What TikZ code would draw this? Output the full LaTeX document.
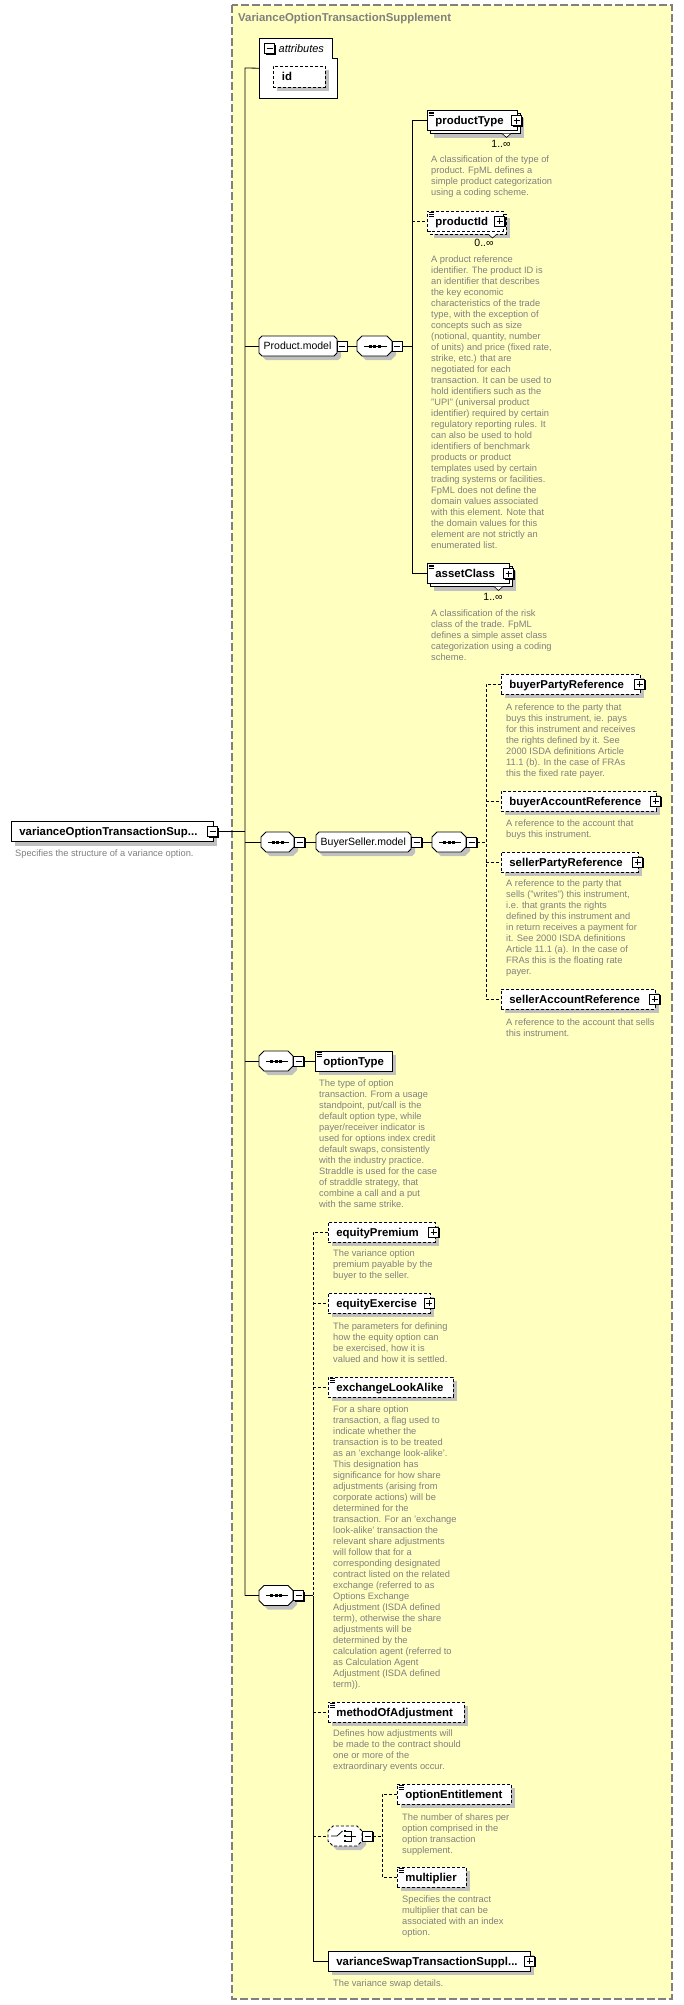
\documentclass[tikz,border=0pt]{standalone}
\usepackage{fontspec}
\setmainfont{Liberation Sans}
\usetikzlibrary{shadows,calc}
\definecolor{bgyellow}{RGB}{255,255,192}
\definecolor{shgray}{RGB}{192,192,192}
\definecolor{desccol}{RGB}{128,128,128}
\definecolor{bordergray}{RGB}{128,128,128}
\tikzset{
  elembox/.style={draw=black, fill=white, line width=0.8pt, minimum height=20pt, inner xsep=8pt, inner ysep=0pt, anchor=west, font=\fontsize{11.4}{13}\selectfont\bfseries, text height=8.2pt, text depth=0pt},
  optb/.style={dash pattern=on 3pt off 2pt},
  conn/.style={line width=0.8pt},
  optconn/.style={line width=0.8pt, dash pattern=on 3pt off 2pt},
  desctext/.style={anchor=north west, inner sep=0pt, align=left, text=desccol, font=\fontsize{9.3}{11}\selectfont},
  multtext/.style={inner sep=0pt, font=\fontsize{10.5}{12}\selectfont},
  grouplabel/.style={inner sep=0pt, anchor=west, font=\fontsize{10.5}{12}\selectfont, text height=7.5pt, text depth=0pt},
  hold/.style={inner sep=0pt, minimum height=20pt, anchor=west},
  pmbox/.style={draw=black, fill=white, line width=0.8pt, minimum size=10pt, inner sep=0pt, general shadow={fill=black, shadow xshift=1pt, shadow yshift=-1pt}},
  plusbox/.style={pmbox, path picture={\draw[line width=0.8pt] ([xshift=-3pt]path picture bounding box.center) -- ([xshift=3pt]path picture bounding box.center) ([yshift=-3pt]path picture bounding box.center) -- ([yshift=3pt]path picture bounding box.center);}},
  minusbox/.style={pmbox, path picture={\draw[line width=0.8pt] ([xshift=-3pt]path picture bounding box.center) -- ([xshift=3pt]path picture bounding box.center);}},
}
% element box: name, style, x-left, y-centre, width, text
\newcommand\elem[6]{%
  \fill[shgray] (#3+4,#4-6) rectangle (#3+#5+4,#4+14);
  \node[elembox,#2,minimum width=#5pt] (#1) at (#3,#4) {\makebox[\dimexpr#5pt-16pt\relax][l]{#6}};
}
\newcommand\elemstack[6]{%
  \fill[shgray] (#3+7,#4-3) rectangle (#3+#5+7,#4+17);
  \draw[line width=0.8pt, fill=white, #2] (#3+3,#4-7) rectangle (#3+#5+3,#4+13);
  \draw[line width=0.6pt, fill=white] (#3+#5-15,#4+13) -- (#3+#5-10.5,#4+17) -- (#3+#5-6,#4+13);
  \node[elembox,#2,minimum width=#5pt] (#1) at (#3,#4) {\makebox[\dimexpr#5pt-16pt\relax][l]{#6}};
}
\newcommand\simpleicon[1]{%
  \draw[line width=0.7pt] ([shift={(1.5pt,-1.8pt)}]#1.north west) -- ++(5.5,0)
    ([shift={(1.5pt,-3.6pt)}]#1.north west) -- ++(5.5,0)
    ([shift={(1.5pt,-5.4pt)}]#1.north west) -- ++(5.5,0);
}
% octagon path: x0, x1, yc, chamfer
\newcommand\octpath[4]{(#1,#3-10+#4) -- (#1+#4,#3-10) -- (#2-#4,#3-10) -- (#2,#3-10+#4) -- (#2,#3+10-#4) -- (#2-#4,#3+10) -- (#1+#4,#3+10) -- (#1,#3+10-#4) -- cycle}
% sequence compositor: name, x0, x1, yc
\newcommand\seqnode[4]{%
  \fill[shgray, shift={(4,4)}] \octpath{#2}{#3}{#4}{5};
  \draw[line width=0.8pt, fill=white] \octpath{#2}{#3}{#4}{5};
  \node[hold, minimum width=#3pt-#2pt] (#1) at (#2,#4) {};
  \draw[line width=1pt] ($(#1.west)+(7,0)$) -- ($(#1.east)+(-5,0)$);
  \fill ($(#1.center)+(-6,-1.5)$) rectangle ++(3,3);
  \fill ($(#1.center)+(-1.5,-1.5)$) rectangle ++(3,3);
  \fill ($(#1.center)+(3,-1.5)$) rectangle ++(3,3);
}
\begin{document}
\begin{tikzpicture}[x=1pt,y=-1pt]
\useasboundingbox (0,0) rectangle (683,2005);
\fill[white] (0,0) rectangle (683,2005);
% complex type area
\draw[fill=bgyellow, draw=bordergray, line width=1.2pt, dash pattern=on 8pt off 3pt] (232,5) rectangle (672,1999);
\node[anchor=west, inner sep=0pt, text=desccol, font=\fontsize{11.4}{13}\selectfont\bfseries] (title) at (238,19) {VarianceOptionTransactionSupplement};

% attributes
\draw[line width=0.8pt, fill=white] (259,38) -- (332,38) -- (332,58) -- (337,58) -- (337,98) -- (259,98) -- cycle;
\node[inner sep=0pt, minimum width=78pt, minimum height=60pt, anchor=north west] (attrs) at (259,38) {};
\node[minusbox] (attrs-m) at (269.5,48.5) {};
\node[anchor=west, inner sep=0pt, font=\fontsize{11}{13}\selectfont\itshape] (attrs-l) at (278.5,48.5) {attributes};
\fill[shgray] (277,70) rectangle (329,91);
\node[elembox, optb, minimum width=52pt, minimum height=21pt, inner xsep=0pt] (id) at (273,76.5) {\makebox[52pt][l]{\hspace{8.5pt}id}};

% main spine
\coordinate (spineTop) at (245,68);
\coordinate (spineBot) at (245,1595.5);
\draw[conn] (attrs.west) -- (spineTop) -- (spineBot);

% root element
\elem{root}{}{11}{831.5}{202}{varianceOptionTransactionSup...}
\node[minusbox] (root-m) at (212.5,831.5) {};
\draw[conn] (root-m.east) -- (root-m.east -| spineTop);
\node[desctext] (root-d) at (15,849.5) {Specifies the structure of a variance option.};

% ---------- Product.model ----------
\fill[shgray, shift={(4,4)}] \octpath{259}{337}{346}{3};
\draw[line width=0.8pt, fill=white] \octpath{259}{337}{346}{3};
\node[hold, minimum width=78pt] (pmodel) at (259,346) {};
\node[grouplabel] (pmodel-l) at (263.5,346) {Product.model};
\node[minusbox] (pmodel-m) at (342,346) {};
\seqnode{seq1}{357}{392}{346}
\node[minusbox] (seq1-m) at (397,346) {};
\draw[conn] (spineTop |- pmodel.west) -- (pmodel.west);
\draw[conn] (pmodel-m.east) -- (seq1.west);
\coordinate (sp1a) at (412,120.5);
\coordinate (sp1b) at (412,573.5);
\draw[conn] (seq1-m.east) -- (seq1-m.east -| sp1a);

\elemstack{ptype}{}{427}{120.5}{90}{productType}
\simpleicon{ptype}
\node[plusbox] (ptype-p) at (516.5,120.5) {};
\node[multtext] (ptype-n) at (501,144) {1..∞};
\node[desctext] (ptype-d) at (431,155.5) {A classification of the type of\\product. FpML defines a\\simple product categorization\\using a coding scheme.};

\elemstack{pid}{optb}{427}{221}{76}{productId}
\simpleicon{pid}
\node[plusbox] (pid-p) at (499.5,221) {};
\node[multtext] (pid-n) at (484,243) {0..∞};
\node[desctext] (pid-d) at (431,255.5) {A product reference\\identifier. The product ID is\\an identifier that describes\\the key economic\\characteristics of the trade\\type, with the exception of\\concepts such as size\\(notional, quantity, number\\of units) and price (fixed rate,\\strike, etc.) that are\\negotiated for each\\transaction. It can be used to\\hold identifiers such as the\\"UPI" (universal product\\identifier) required by certain\\regulatory reporting rules. It\\can also be used to hold\\identifiers of benchmark\\products or product\\templates used by certain\\trading systems or facilities.\\FpML does not define the\\domain values associated\\with this element. Note that\\the domain values for this\\element are not strictly an\\enumerated list.};

\elemstack{aclass}{}{427}{573.5}{82}{assetClass}
\simpleicon{aclass}
\node[plusbox] (aclass-p) at (508.5,573.5) {};
\node[multtext] (aclass-n) at (493,597) {1..∞};
\node[desctext] (aclass-d) at (431,609.5) {A classification of the risk\\class of the trade. FpML\\defines a simple asset class\\categorization using a coding\\scheme.};

\draw[conn] (ptype.west) -- (ptype.west -| sp1a) -- (sp1b) -- (aclass.west);
\draw[optconn] (sp1a |- pid.west) -- (pid.west);

% ---------- BuyerSeller.model ----------
\seqnode{seqA}{261}{294}{842}
\node[minusbox] (seqA-m) at (299.5,842) {};
\fill[shgray, shift={(4,4)}] \octpath{316}{411}{842}{3};
\draw[line width=0.8pt, fill=white] \octpath{316}{411}{842}{3};
\node[hold, minimum width=95pt] (bsm) at (316,842) {};
\node[grouplabel] (bsm-l) at (320.5,842) {BuyerSeller.model};
\node[minusbox] (bsm-m) at (416.5,842) {};
\seqnode{seqB}{432}{466}{842}
\node[minusbox] (seqB-m) at (471.5,842) {};
\draw[conn] (spineTop |- seqA.west) -- (seqA.west);
\draw[conn] (seqA-m.east) -- (bsm.west);
\draw[conn] (bsm-m.east) -- (seqB.west);
\coordinate (sp2a) at (486,684);
\coordinate (sp2b) at (486,999);
\draw[optconn] (seqB-m.east) -- (seqB-m.east -| sp2a);

\elem{bpr}{optb}{501}{684}{139}{buyerPartyReference}
\node[plusbox] (bpr-p) at (639.5,684) {};
\node[desctext] (bpr-d) at (506,703.5) {A reference to the party that\\buys this instrument, ie. pays\\for this instrument and receives\\the rights defined by it. See\\2000 ISDA definitions Article\\11.1 (b). In the case of FRAs\\this the fixed rate payer.};

\elem{bar}{optb}{501}{801}{155}{buyerAccountReference}
\node[plusbox] (bar-p) at (655.5,801) {};
\node[desctext] (bar-d) at (506,819.5) {A reference to the account that\\buys this instrument.};

\elem{spr}{optb}{501}{862}{137}{sellerPartyReference}
\node[plusbox] (spr-p) at (637.5,862) {};
\node[desctext] (spr-d) at (506,879.5) {A reference to the party that\\sells ("writes") this instrument,\\i.e. that grants the rights\\defined by this instrument and\\in return receives a payment for\\it. See 2000 ISDA definitions\\Article 11.1 (a). In the case of\\FRAs this is the floating rate\\payer.};

\elem{sar}{optb}{501}{999}{154}{sellerAccountReference}
\node[plusbox] (sar-p) at (654.5,999) {};
\node[desctext] (sar-d) at (506,1018.5) {A reference to the account that sells\\this instrument.};

\draw[optconn] (bpr.west) -- (bpr.west -| sp2a) -- (sp2b) -- (sar.west);
\draw[optconn] (sp2a |- bar.west) -- (bar.west);
\draw[optconn] (sp2a |- spr.west) -- (spr.west);

% ---------- optionType ----------
\seqnode{seqC}{259}{293}{1061}
\node[minusbox] (seqC-m) at (298.5,1061) {};
\elem{otype}{}{315}{1061}{77}{optionType}
\simpleicon{otype}
\draw[conn] (spineTop |- seqC.west) -- (seqC.west);
\draw[conn] (seqC-m.east) -- (otype.west);
\node[desctext] (otype-d) at (319,1079.5) {The type of option\\transaction. From a usage\\standpoint, put/call is the\\default option type, while\\payer/receiver indicator is\\used for options index credit\\default swaps, consistently\\with the industry practice.\\Straddle is used for the case\\of straddle strategy, that\\combine a call and a put\\with the same strike.};

% ---------- last sequence ----------
\seqnode{seqD}{259}{293}{1595.5}
\node[minusbox] (seqD-m) at (298.5,1595.5) {};
\draw[conn] (spineBot) -- (seqD.west);
\coordinate (sp3a) at (313,1232);
\coordinate (sp3b) at (313,1961);
\draw[conn] (seqD-m.east) -- (seqD-m.east -| sp3a);

\elem{ep}{optb}{328}{1232}{107}{equityPremium}
\node[plusbox] (ep-p) at (433.5,1232) {};
\node[desctext] (ep-d) at (333,1249.5) {The variance option\\premium payable by the\\buyer to the seller.};

\elem{ee}{optb}{328}{1303}{102}{equityExercise}
\node[plusbox] (ee-p) at (429,1303) {};
\node[desctext] (ee-d) at (333,1322.5) {The parameters for defining\\how the equity option can\\be exercised, how it is\\valued and how it is settled.};

\elem{exl}{optb}{328}{1387}{125}{exchangeLookAlike}
\simpleicon{exl}
\node[desctext] (exl-d) at (333,1405.5) {For a share option\\transaction, a flag used to\\indicate whether the\\transaction is to be treated\\as an 'exchange look-alike'.\\This designation has\\significance for how share\\adjustments (arising from\\corporate actions) will be\\determined for the\\transaction. For an 'exchange\\look-alike' transaction the\\relevant share adjustments\\will follow that for a\\corresponding designated\\contract listed on the related\\exchange (referred to as\\Options Exchange\\Adjustment (ISDA defined\\term), otherwise the share\\adjustments will be\\determined by the\\calculation agent (referred to\\as Calculation Agent\\Adjustment (ISDA defined\\term)).};

\elem{moa}{optb}{328}{1712}{136}{methodOfAdjustment}
\simpleicon{moa}
\node[desctext] (moa-d) at (333,1729.5) {Defines how adjustments will\\be made to the contract should\\one or more of the\\extraordinary events occur.};

% choice
\fill[shgray, shift={(4,4)}] \octpath{328}{362}{1836}{5};
\draw[line width=0.8pt, fill=white, optb] \octpath{328}{362}{1836}{5};
\node[hold, minimum width=34pt] (choice) at (328,1836) {};
\draw[line width=0.8pt] (331,1836) -- (337,1836) -- (342.5,1831);
\fill (343.5,1829.8) rectangle ++(2.6,2.6);
\fill (343.5,1834.8) rectangle ++(2.6,2.6);
\fill (343.5,1839.8) rectangle ++(2.6,2.6);
\draw[line width=0.8pt] (346,1831) -- (351,1831) -- (351,1841) -- (346,1841) (346,1836) -- (356,1836);
\node[minusbox] (choice-m) at (367.5,1836) {};
\coordinate (sp4a) at (382,1794);
\coordinate (sp4b) at (382,1877);
\draw[optconn] (choice-m.east) -- (choice-m.east -| sp4a);

\elem{oe}{optb}{397}{1794}{114}{optionEntitlement}
\simpleicon{oe}
\node[desctext] (oe-d) at (402,1813.5) {The number of shares per\\option comprised in the\\option transaction\\supplement.};

\elem{mul}{optb}{397}{1877}{69}{multiplier}
\simpleicon{mul}
\node[desctext] (mul-d) at (402,1895.5) {Specifies the contract\\multiplier that can be\\associated with an index\\option.};

\draw[optconn] (oe.west) -- (oe.west -| sp4a) -- (sp4b) -- (mul.west);

\elem{vs}{}{328}{1961}{202}{varianceSwapTransactionSuppl...}
\node[plusbox] (vs-p) at (529.5,1961) {};
\node[desctext] (vs-d) at (333,1979.5) {The variance swap details.};

\draw[optconn] (ep.west) -- (ep.west -| sp3a) -- (sp3a |- seqD-m.east);
\draw[conn] (sp3a |- seqD-m.east) -- (sp3b) -- (vs.west);
\draw[optconn] (sp3a |- ee.west) -- (ee.west);
\draw[optconn] (sp3a |- exl.west) -- (exl.west);
\draw[optconn] (sp3a |- moa.west) -- (moa.west);
\draw[optconn] (sp3a |- choice.west) -- (choice.west);
\end{tikzpicture}
\end{document}
